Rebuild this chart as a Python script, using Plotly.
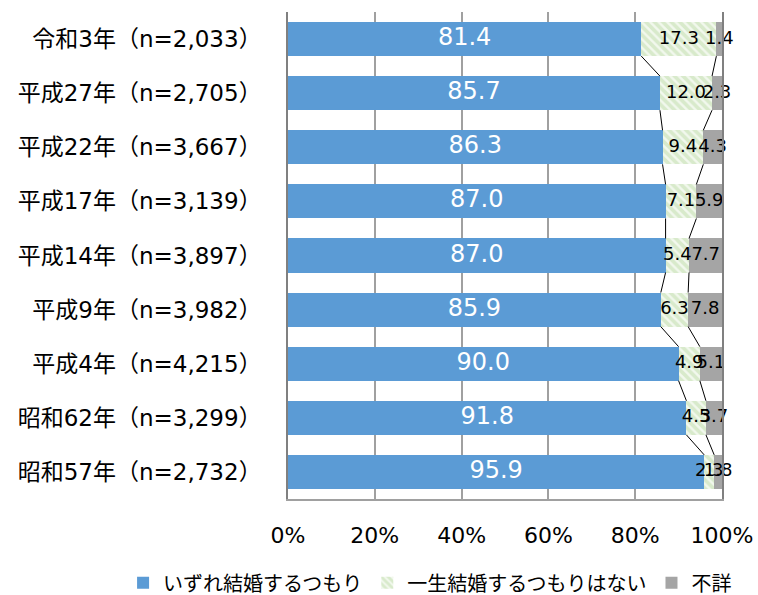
import plotly.graph_objects as go

years = [
    "令和3年（n=2,033）",
    "平成27年（n=2,705）",
    "平成22年（n=3,667）",
    "平成17年（n=3,139）",
    "平成14年（n=3,897）",
    "平成9年（n=3,982）",
    "平成4年（n=4,215）",
    "昭和62年（n=3,299）",
    "昭和57年（n=2,732）",
]
intend = [81.4, 85.7, 86.3, 87.0, 87.0, 85.9, 90.0, 91.8, 95.9]
never = [17.3, 12.0, 9.4, 7.1, 5.4, 6.3, 4.9, 4.5, 2.3]
unknown = [1.4, 2.3, 4.3, 5.9, 7.7, 7.8, 5.1, 3.7, 1.8]
x_ticks = [0, 20, 40, 60, 80, 100]

FONT = "Verdana, DejaVu Sans, Noto Sans CJK JP"
BAR_W = 0.63
pos = list(range(len(years)))

fig = go.Figure()

fig.add_trace(
    go.Bar(
        name="いずれ結婚するつもり",
        y=pos, x=intend, orientation="h", width=BAR_W,
        marker=dict(color="#5B9BD5", line=dict(width=0)),
        hoverinfo="skip",
    )
)
fig.add_trace(
    go.Bar(
        name="一生結婚するつもりはない",
        y=pos, x=never, orientation="h", width=BAR_W,
        marker=dict(
            color="white",
            line=dict(width=0),
            pattern=dict(shape="\\", fgcolor="#BEDCA8", bgcolor="#F2F8EE", size=6, solidity=0.6),
        ),
        hoverinfo="skip",
    )
)
fig.add_trace(
    go.Bar(
        name="不詳",
        y=pos, x=unknown, orientation="h", width=BAR_W,
        marker=dict(color="#A5A5A5", line=dict(width=0)),
        hoverinfo="skip",
    )
)

# series lines between neighbouring bars
lx, ly = [], []
for i in range(len(years) - 1):
    for a, b in [
        (intend[i], intend[i + 1]),
        (intend[i] + never[i], intend[i + 1] + never[i + 1]),
    ]:
        lx += [a, b, None]
        ly += [i + BAR_W / 2, i + 1 - BAR_W / 2, None]
fig.add_trace(
    go.Scatter(
        x=lx, y=ly, mode="lines",
        line=dict(color="black", width=1),
        showlegend=False, hoverinfo="skip",
    )
)

# data labels centred on each segment
mid1 = [a / 2 for a in intend]
mid2 = [a + b / 2 for a, b in zip(intend, never)]
mid3 = [a + b + c / 2 for a, b, c in zip(intend, never, unknown)]
fig.add_trace(
    go.Scatter(
        x=mid1, y=pos, mode="text",
        text=[f"{v:.1f}" for v in intend],
        textfont=dict(color="white", size=24, family=FONT),
        showlegend=False, hoverinfo="skip", cliponaxis=False,
    )
)
for mids, vals in [(mid2, never), (mid3, unknown)]:
    fig.add_trace(
        go.Scatter(
            x=mids, y=pos, mode="text",
            text=[f"{v:.1f}" for v in vals],
            textfont=dict(color="black", size=18, family=FONT),
            showlegend=False, hoverinfo="skip", cliponaxis=False,
        )
    )

fig.update_layout(
    barmode="stack",
    width=758,
    height=595,
    margin=dict(l=288, r=36, t=12, b=96, autoexpand=False),
    paper_bgcolor="white",
    plot_bgcolor="white",
    font=dict(family=FONT, size=20, color="black"),
    legend=dict(
        orientation="h",
        x=-0.38, xanchor="left",
        y=-0.172, yanchor="middle",
        font=dict(size=20),
        itemwidth=30,
        traceorder="normal",
    ),
    xaxis=dict(
        range=[0, 100],
        tickvals=x_ticks,
        ticktext=[f"{v}%" for v in x_ticks],
        showgrid=True,
        gridcolor="#A0A0A0",
        gridwidth=1.5,
        showline=True,
        linecolor="#A0A0A0",
        linewidth=1.5,
        zeroline=False,
        automargin=False,
        ticklabelstandoff=16,
        tickfont=dict(size=22),
    ),
    yaxis=dict(
        range=[len(years) - 0.5, -0.5],
        tickvals=pos,
        ticktext=years,
        showgrid=False,
        showline=True,
        linecolor="#808080",
        linewidth=1.5,
        mirror=True,
        zeroline=False,
        automargin=False,
        ticklabelstandoff=20,
        tickfont=dict(size=23),
    ),
)

fig.update_traces(selector=dict(type="bar"), cliponaxis=False)

fig.write_html(
    "out.html",
    config={"displayModeBar": False},
    post_script="document.body.style.margin='0';",
)
